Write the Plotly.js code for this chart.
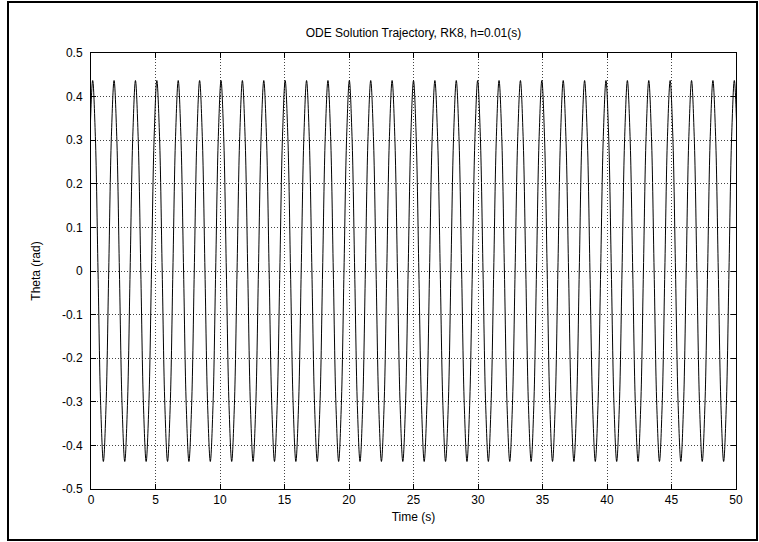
<!DOCTYPE html>
<html>
<head>
<meta charset="utf-8">
<script src="https://cdn.plot.ly/plotly-3.0.1.min.js"></script>
<style>
  html, body { margin: 0; padding: 0; background: #fff; }
  #chart { width: 759px; height: 542px; }
</style>
</head>
<body>
<div id="chart"></div>
<script>
// Sampled trajectory read from the picture: one sample every 1/8 of the oscillation period
// (period ~1.658 s, amplitude ~0.437 rad, first peak near t = 0.13 s)
const timeStart = -0.2845;   // s, first sample (zero crossing before first peak)
const timeStep = 0.20725;    // s, spacing between samples
const theta = [
  0, 0.309, 0.437, 0.309, 0, -0.309, -0.437, -0.309,
  0, 0.309, 0.437, 0.309, 0, -0.309, -0.437, -0.309,
  0, 0.309, 0.437, 0.309, 0, -0.309, -0.437, -0.309,
  0, 0.309, 0.437, 0.309, 0, -0.309, -0.437, -0.309,
  0, 0.309, 0.437, 0.309, 0, -0.309, -0.437, -0.309,
  0, 0.309, 0.437, 0.309, 0, -0.309, -0.437, -0.309,
  0, 0.309, 0.437, 0.309, 0, -0.309, -0.437, -0.309,
  0, 0.309, 0.437, 0.309, 0, -0.309, -0.437, -0.309,
  0, 0.309, 0.437, 0.309, 0, -0.309, -0.437, -0.309,
  0, 0.309, 0.437, 0.309, 0, -0.309, -0.437, -0.309,
  0, 0.309, 0.437, 0.309, 0, -0.309, -0.437, -0.309,
  0, 0.309, 0.437, 0.309, 0, -0.309, -0.437, -0.309,
  0, 0.309, 0.437, 0.309, 0, -0.309, -0.437, -0.309,
  0, 0.309, 0.437, 0.309, 0, -0.309, -0.437, -0.309,
  0, 0.309, 0.437, 0.309, 0, -0.309, -0.437, -0.309,
  0, 0.309, 0.437, 0.309, 0, -0.309, -0.437, -0.309,
  0, 0.309, 0.437, 0.309, 0, -0.309, -0.437, -0.309,
  0, 0.309, 0.437, 0.309, 0, -0.309, -0.437, -0.309,
  0, 0.309, 0.437, 0.309, 0, -0.309, -0.437, -0.309,
  0, 0.309, 0.437, 0.309, 0, -0.309, -0.437, -0.309,
  0, 0.309, 0.437, 0.309, 0, -0.309, -0.437, -0.309,
  0, 0.309, 0.437, 0.309, 0, -0.309, -0.437, -0.309,
  0, 0.309, 0.437, 0.309, 0, -0.309, -0.437, -0.309,
  0, 0.309, 0.437, 0.309, 0, -0.309, -0.437, -0.309,
  0, 0.309, 0.437, 0.309, 0, -0.309, -0.437, -0.309,
  0, 0.309, 0.437, 0.309, 0, -0.309, -0.437, -0.309,
  0, 0.309, 0.437, 0.309, 0, -0.309, -0.437, -0.309,
  0, 0.309, 0.437, 0.309, 0, -0.309, -0.437, -0.309,
  0, 0.309, 0.437, 0.309, 0, -0.309, -0.437, -0.309,
  0, 0.309, 0.437, 0.309, 0, -0.309, -0.437, -0.309,
  0, 0.309, 0.437, 0.309, 0
];

const xTicks = [0, 5, 10, 15, 20, 25, 30, 35, 40, 45, 50];
const yTicks = [-0.5, -0.4, -0.3, -0.2, -0.1, 0, 0.1, 0.2, 0.3, 0.4, 0.5];
const yTickText = ["-0.5", "-0.4", "-0.3", "-0.2", "-0.1", "0", "0.1", "0.2", "0.3", "0.4", "0.5"];

const FONT = "Liberation Sans, Arial, Helvetica, sans-serif";

const trace = {
  type: "scatter",
  mode: "lines",
  x0: timeStart,
  dx: timeStep,
  y: theta,
  line: { color: "#000", width: 1, shape: "spline", smoothing: 1 },
  hoverinfo: "skip",
  showlegend: false
};

const axisCommon = {
  showline: true,
  linecolor: "#000",
  linewidth: 1,
  mirror: "ticks",
  ticks: "inside",
  ticklen: 5,
  tickwidth: 1,
  tickcolor: "#000",
  showgrid: true,
  gridcolor: "#444",
  gridwidth: 1,
  griddash: "1px,2px",
  zeroline: false,
  tickfont: { family: FONT, size: 12, color: "#000" }
};

const layout = {
  width: 759,
  height: 542,
  margin: { l: 91, r: 23, t: 53, b: 53 },
  paper_bgcolor: "#fff",
  plot_bgcolor: "#fff",
  font: { family: FONT, color: "#000", size: 12 },
  title: {
    text: "ODE Solution Trajectory, RK8, h=0.01(s)",
    font: { family: FONT, size: 12, color: "#000" },
    x: 0.5, xref: "paper", xanchor: "center",
    y: 1 - 33 / 542, yref: "container", yanchor: "middle"
  },
  xaxis: Object.assign({}, axisCommon, {
    range: [0, 50],
    tickmode: "array",
    tickvals: xTicks,
    ticktext: xTicks.map(String),
    title: { text: "Time (s)", font: { family: FONT, size: 12, color: "#000" }, standoff: 6 }
  }),
  yaxis: Object.assign({}, axisCommon, {
    range: [-0.5, 0.5],
    tickmode: "array",
    tickvals: yTicks,
    ticktext: yTickText,
    ticklabelstandoff: 5,
    title: { text: "Theta (rad)", font: { family: FONT, size: 12, color: "#000" }, standoff: 18 }
  }),
  shapes: [
    {
      type: "rect", xref: "paper", yref: "paper",
      x0: (8 - 91) / 645, x1: (757 - 91) / 645,
      y0: (489 - 540) / 436, y1: (489 - 2) / 436,
      line: { color: "#000", width: 2 },
      fillcolor: "rgba(0,0,0,0)",
      layer: "below"
    }
  ]
};

Plotly.newPlot("chart", [trace], layout, { displayModeBar: false, staticPlot: true });
</script>
</body>
</html>
